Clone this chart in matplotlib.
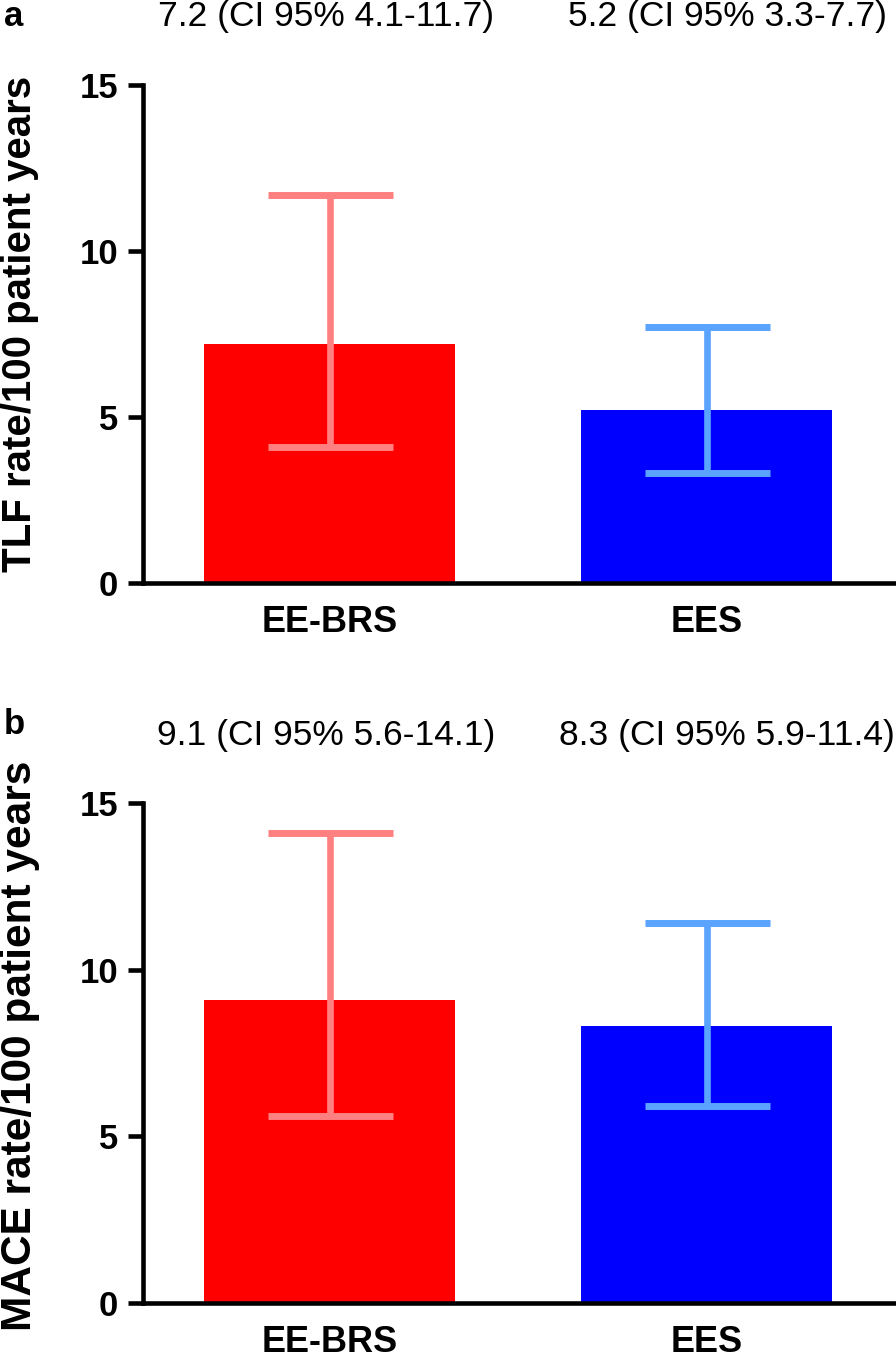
import matplotlib
matplotlib.use("Agg")
import matplotlib.pyplot as plt

# data
groups = ["EE-BRS", "EES"]
tlf_rate = [7.2, 5.2]
tlf_low = [4.1, 3.3]
tlf_high = [11.7, 7.7]
mace_rate = [9.1, 8.3]
mace_low = [5.6, 5.9]
mace_high = [14.1, 11.4]
yticks = [0, 5, 10, 15]

bar_colors = ["#FF0000", "#0000FF"]
err_colors = ["#FF8080", "#5AA3FF"]

plt.rcParams["font.family"] = ["Liberation Sans", "DejaVu Sans"]

W, H = 896, 1359
fig = plt.figure(figsize=(W / 100, H / 100), dpi=100)


def panel(rect, rates, lows, highs, ylabel, ylab_size, ylab_y, letter, letter_y, ann_y):
    ax = fig.add_axes(rect)
    x = list(range(len(groups)))
    ax.bar(x, rates, width=0.665, color=bar_colors, zorder=1)
    for i in x:
        ax.errorbar(i, rates[i],
                    yerr=[[rates[i] - lows[i]], [highs[i] - rates[i]]],
                    fmt="none", ecolor=err_colors[i], elinewidth=4.8,
                    capsize=45, capthick=5, zorder=2)
    ax.set_xlim(-0.495, 1.5)
    ax.set_ylim(0, 15)
    ax.set_yticks(yticks)
    ax.set_xticks(x)
    ax.set_xticklabels(groups)
    for s in ["top", "right"]:
        ax.spines[s].set_visible(False)
    for s in ["left", "bottom"]:
        ax.spines[s].set_linewidth(3.3)
    ax.tick_params(axis="y", length=11, width=3.3, pad=7, labelsize=25)
    ax.tick_params(axis="x", length=0, pad=16, labelsize=26)
    for lab in ax.get_xticklabels() + ax.get_yticklabels():
        lab.set_fontweight("bold")

    # CI annotations above the bars
    for xt, r, lo, hi in zip([-0.01, 1.055], rates, lows, highs):
        ax.text(xt, ann_y, f"{r} (CI 95% {lo}-{hi})", ha="center", va="baseline",
                fontsize=25.5, transform=ax.get_xaxis_transform(), clip_on=False)

    fig.text(20 / W, 1 - ylab_y / H, ylabel, rotation=90, ha="center", va="center",
             fontsize=ylab_size, fontweight="bold")
    fig.text(4 / W, 1 - letter_y / H, letter, ha="left", va="baseline",
             fontsize=25, fontweight="bold")
    return ax


panel([143 / W, 1 - 583 / H, (895 - 143) / W, 498 / H],
      tlf_rate, tlf_low, tlf_high, "TLF rate/100 patient years", 29, 324, "a", 26, 1.1185)
panel([143 / W, 1 - 1303 / H, (895 - 143) / W, 500 / H],
      mace_rate, mace_low, mace_high, "MACE rate/100 patient years", 30.5, 1046, "b", 734, 1.116)

fig.savefig("out.png", dpi=100)
